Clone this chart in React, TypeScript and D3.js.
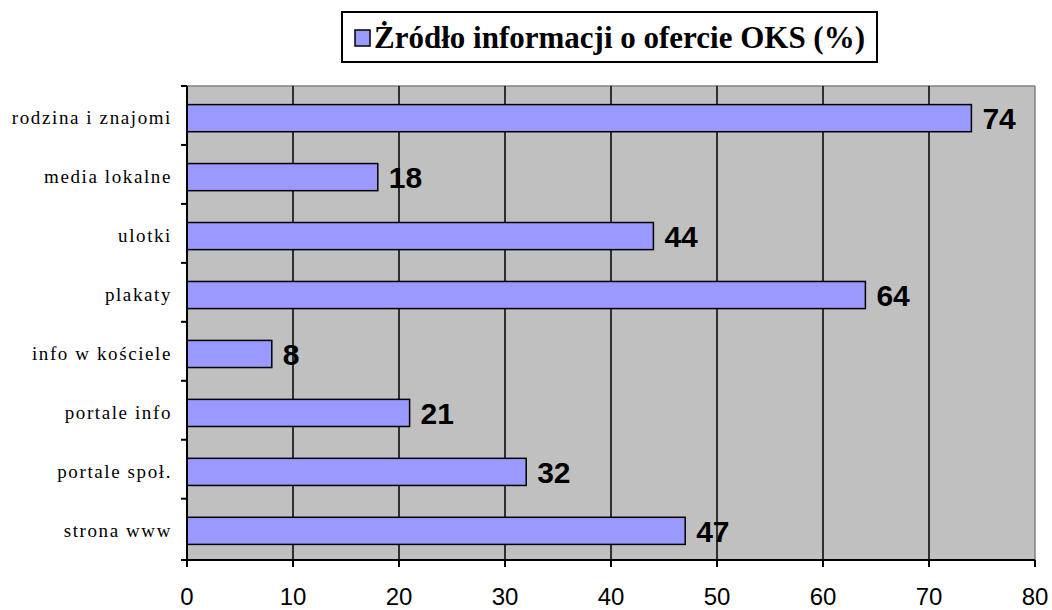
import React from "react";
import * as d3 from "d3";

const categories = [
  "rodzina i znajomi",
  "media lokalne",
  "ulotki",
  "plakaty",
  "info w kościele",
  "portale info",
  "portale społ.",
  "strona www",
];
const values = [74, 18, 44, 64, 8, 21, 32, 47];
const xTicks = [0, 10, 20, 30, 40, 50, 60, 70, 80];
const legendLabel = "Żródło informacji o ofercie OKS (%)";

const W = 1052;
const H = 610;
const left = 187;
const right = 1035;
const top = 86;
const bottom = 560;

const SERIF = "'Liberation Serif', 'Times New Roman', Times, serif";
const SANS = "'Liberation Sans', Arial, Helvetica, sans-serif";

export default function App() {
  const x = d3.scaleLinear().domain([0, 80]).range([left, right]);
  const y = d3
    .scaleBand<string>()
    .domain(categories)
    .range([top, bottom])
    .paddingInner(0.54)
    .paddingOuter(0.29);
  const step = y.step();

  return (
    <svg
      width={W}
      height={H}
      style={{ position: "absolute", left: 0, top: 0, background: "#fff" }}
    >
      <rect x={left} y={top} width={right - left} height={bottom - top} fill="#C0C0C0" />
      <line x1={left} x2={right} y1={top} y2={top} stroke="#808080" strokeWidth={1.5} />
      <line x1={right} x2={right} y1={top} y2={bottom} stroke="#808080" strokeWidth={1.5} />
      {xTicks
        .filter((t) => t > 0 && t < 80)
        .map((t) => (
          <line key={"g" + t} x1={x(t)} x2={x(t)} y1={top} y2={bottom} stroke="#000" strokeWidth={1.5} />
        ))}
      {categories.map((c, i) => (
        <rect
          key={c}
          x={x(0)}
          y={(y(c) as number) + 1.5}
          width={x(values[i]) - x(0)}
          height={y.bandwidth()}
          fill="#9999FF"
          stroke="#000"
          strokeWidth={1.5}
        />
      ))}
      {categories.map((c, i) => (
        <text
          key={"v" + c}
          x={x(values[i]) + 11}
          y={(y(c) as number) + 1.5 + y.bandwidth() / 2 + 11}
          style={{ fontFamily: SANS, fontWeight: "bold", fontSize: 30 }}
          fill="#000"
        >
          {values[i]}
        </text>
      ))}
      <line x1={left} x2={left} y1={top} y2={bottom} stroke="#000" strokeWidth={2} />
      <line x1={left - 6} x2={right} y1={bottom} y2={bottom} stroke="#000" strokeWidth={2} />
      {categories.map((c, i) => (
        <line
          key={"ct" + c}
          x1={left - 6}
          x2={left}
          y1={top + i * step}
          y2={top + i * step}
          stroke="#000"
          strokeWidth={2}
        />
      ))}
      {xTicks.map((t) => (
        <line key={"xt" + t} x1={x(t)} x2={x(t)} y1={bottom} y2={bottom + 7} stroke="#000" strokeWidth={2} />
      ))}
      {xTicks.map((t) => (
        <text
          key={"xl" + t}
          x={x(t)}
          y={bottom + 45}
          textAnchor="middle"
          style={{ fontFamily: SANS, fontSize: 24 }}
          fill="#000"
        >
          {t}
        </text>
      ))}
      {categories.map((c) => (
        <text
          key={"cl" + c}
          x={172}
          y={(y(c) as number) + 1.5 + y.bandwidth() / 2 + 6}
          textAnchor="end"
          style={{ fontFamily: SERIF, fontSize: 19, letterSpacing: 1.6 }}
          fill="#000"
        >
          {c}
        </text>
      ))}
      <rect x={342} y={12} width={535} height={50} fill="#fff" stroke="#000" strokeWidth={2} />
      <rect x={355} y={30} width={15} height={16} fill="#9999FF" stroke="#000" strokeWidth={1.5} />
      <text
        x={374}
        y={48}
        style={{ fontFamily: SERIF, fontWeight: "bold", fontSize: 31 }}
        fill="#000"
      >
        {legendLabel}
      </text>
    </svg>
  );
}
